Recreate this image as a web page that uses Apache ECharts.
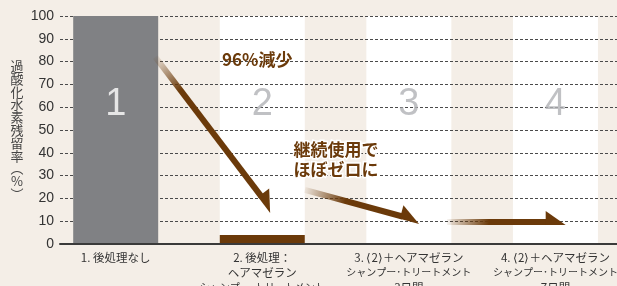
<!DOCTYPE html>
<html>
<head>
<meta charset="utf-8">
<script src="https://cdn.jsdelivr.net/npm/echarts@6/dist/echarts.min.js"></script>
<style>
  html, body { margin: 0; padding: 0; background: #f4eee7; }
  #chart { width: 617px; height: 286px; }
</style>
</head>
<body>
<div id="chart"></div>
<script>
// ---- data ----
const categories = [
  '1. 後処理なし',
  '2. 後処理：\nヘアマゼラン\nシャンプー･トリートメント',
  '3. ⟨2⟩＋ヘアマゼラン\nシャンプー･トリートメント\n3日間',
  '4. ⟨2⟩＋ヘアマゼラン\nシャンプー･トリートメント\n7日間'
]
const categoryPos = [1, 2, 3, 4]
const residualRate = [100, 4, 0, 0]
const bgColumns = [null, 100, 100, 100]
const bigNumbers = ['1', '2', '3', '4']
const bigNumberY = 61
const yTitle = ['過', '酸', '化', '水', '素', '残', '留', '率', '︵', '%', '︶']
// arrows: [x1, y1, x2, y2] in axis units
const arrows = [
  [1.27, 82, 2.07, 14.4],
  [2.29, 23.7, 3.075, 10.0],
  [3.26, 9.6, 4.07, 9.6]
]

// ---- style ----
const BROWN = '#6b3a0a'
const barColors = ['#808184', BROWN, BROWN, BROWN]
const numColors = ['#ffffff', '#b0b2b5', '#b0b2b5', '#b0b2b5']
const CJK = '"Noto Sans CJK JP", sans-serif'

// long katakana lines get a narrower style so they fit the column
const fmtCategory = (v) => {
  const txt = categories[categoryPos.indexOf(v)] || ''
  return txt.split('\n').map(line => line.length > 10 && line.indexOf('シャンプー') === 0 ? '{k|' + line + '}' : '{n|' + line + '}').join('\n')
}

const chart = echarts.init(document.getElementById('chart'))

chart.setOption({
  backgroundColor: '#f4eee7',
  animation: false,
  grid: { left: 60, right: 0, top: 16, bottom: 42, outerBoundsMode: 'none', containLabel: false },
  xAxis: {
    type: 'value',
    min: 0.62,
    max: 4.42,
    z: 3,
    axisLine: { lineStyle: { color: '#3a3a3a', width: 2 } },
    axisTick: { show: false },
    splitLine: { show: false },
    axisLabel: {
      customValues: categoryPos,
      formatter: fmtCategory,
      margin: 6,
      color: '#333',
      fontFamily: CJK,
      rich: {
        n: { fontSize: 11.5, lineHeight: 15, color: '#333', fontFamily: CJK },
        k: { fontSize: 10, lineHeight: 15, color: '#333', fontFamily: CJK }
      }
    }
  },
  yAxis: {
    type: 'value',
    min: 0,
    max: 100,
    interval: 10,
    axisLine: { show: false },
    axisTick: { show: false },
    axisLabel: { margin: 6, fontSize: 14, color: '#333', fontFamily: '"Liberation Sans", Arial, sans-serif' },
    splitLine: { lineStyle: { color: '#4a4a4a', type: [3, 2], width: 1 } },
    name: yTitle.join('\n'),
    nameLocation: 'middle',
    nameRotate: 0,
    nameGap: 43,
    nameTextStyle: { fontSize: 13, lineHeight: 12.8, color: '#444', fontFamily: CJK, align: 'center', verticalAlign: 'middle', padding: [8, 0, 0, 0] }
  },
  series: [
    {
      // white background columns (under grid lines)
      type: 'bar',
      z: -1,
      silent: true,
      barWidth: 85,
      barGap: '-100%',
      itemStyle: { color: '#ffffff' },
      data: categoryPos.map((x, i) => [x, bgColumns[i]])
    },
    {
      type: 'bar',
      barWidth: 85,
      barGap: '-100%',
      itemStyle: { color: p => barColors[p.dataIndex] },
      data: categoryPos.map((x, i) => [x, residualRate[i]])
    },
    {
      // big column numbers
      type: 'scatter',
      symbolSize: 0,
      silent: true,
      z: 4,
      label: {
        show: true,
        position: 'inside',
        formatter: p => bigNumbers[p.dataIndex],
        fontSize: 38,
        fontWeight: 'normal',
        fontFamily: '"Liberation Sans", Arial, sans-serif'
      },
      data: categoryPos.map((x, i) => ({
        value: [x, bigNumberY],
        label: { color: numColors[i] }
      }))
    }
  ]
})

// ---- arrows (half arrowheads, faded tails) ----
const buildArrow = (a) => {
  const s = chart.convertToPixel({ gridIndex: 0 }, [a[0], a[1]])
  const e = chart.convertToPixel({ gridIndex: 0 }, [a[2], a[3]])
  const dx = e[0] - s[0], dy = e[1] - s[1]
  const len = Math.hypot(dx, dy)
  const d = [dx / len, dy / len]
  const r = [-d[1], d[0]]
  const h = 3, L = 20, b = 8
  const tip = [e[0] + r[0] * h, e[1] + r[1] * h]
  const b1 = [e[0] - d[0] * L + r[0] * h, e[1] - d[1] * L + r[1] * h]
  const b2 = [e[0] - d[0] * L - r[0] * (h + b), e[1] - d[1] * L - r[1] * (h + b)]
  const shaftEnd = [e[0] - d[0] * (L - 2), e[1] - d[1] * (L - 2)]
  const fade = Math.min(0.45, 42 / len)
  return [
    {
      type: 'line',
      z: 10,
      silent: true,
      shape: { x1: s[0], y1: s[1], x2: shaftEnd[0], y2: shaftEnd[1] },
      style: {
        lineWidth: 6,
        stroke: new echarts.graphic.LinearGradient(s[0], s[1], e[0], e[1], [
          { offset: 0, color: 'rgba(107,58,10,0.05)' },
          { offset: fade, color: BROWN },
          { offset: 1, color: BROWN }
        ], true)
      }
    },
    {
      type: 'polygon',
      z: 10,
      silent: true,
      shape: { points: [tip, b1, b2] },
      style: { fill: BROWN }
    }
  ]
}

const graphics = []
arrows.forEach(a => graphics.push(...buildArrow(a)))

graphics.push({
  type: 'text',
  z: 11,
  left: 222,
  top: 51,
  style: { text: '96%減少', font: 'bold 17px ' + CJK, fill: BROWN }
})
graphics.push({
  type: 'text',
  z: 11,
  left: 292,
  top: 140,
  style: {
    text: '継続使用で\nほぼゼロに',
    font: 'bold 17px ' + CJK,
    lineHeight: 19.5,
    fill: BROWN,
    stroke: '#ffffff',
    lineWidth: 3
  }
})

chart.setOption({ graphic: graphics })
</script>
</body>
</html>
